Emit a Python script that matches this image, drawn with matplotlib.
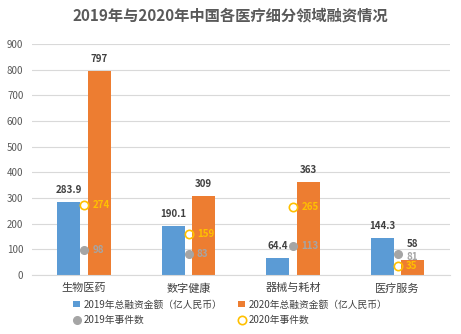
import matplotlib.pyplot as plt
import numpy as np

plt.rcParams['font.family'] = ['Noto Sans CJK SC', 'DejaVu Sans']

categories = ['生物医药', '数字健康', '器械与耗材', '医疗服务']
amount_2019 = [283.9, 190.1, 64.4, 144.3]
amount_2020 = [797, 309, 363, 58]
events_2019 = [98, 83, 113, 81]
events_2020 = [274, 159, 265, 35]

blue = '#5B9BD5'
orange = '#ED7D31'
grey = '#A5A5A5'
yellow = '#FFC000'
text_c = '#404040'

fig = plt.figure(figsize=(4.61, 3.34), dpi=100)
ax = fig.add_axes([0.069, 0.177, 0.907, 0.691])

x = np.arange(len(categories))
w = 0.22
off = 0.145

b1 = ax.bar(x - off, amount_2019, w, color=blue, label='2019年总融资金额（亿人民币）', zorder=2)
b2 = ax.bar(x + off, amount_2020, w, color=orange, label='2020年总融资金额（亿人民币）', zorder=2)
l1, = ax.plot(x, events_2019, 'o', color=grey, ms=5.5, ls='none', label='2019年事件数', zorder=3)
l2, = ax.plot(x, events_2020, 'o', mfc='none', mec=yellow, mew=1.2, ms=6, ls='none', label='2020年事件数', zorder=3)

for xi, v in zip(x, amount_2019):
    ax.annotate(f'{v:.1f}', (xi - off, v), xytext=(0, 5), textcoords='offset points',
                ha='center', va='bottom', fontsize=7, fontweight='bold', color=text_c)
for i, (xi, v) in enumerate(zip(x, amount_2020)):
    # last one sits right above the event labels, nudge it up a little
    dy = 8 if i == 3 else 5
    ax.annotate(f'{v}', (xi + off, v), xytext=(0, dy), textcoords='offset points',
                ha='center', va='bottom', fontsize=7, fontweight='bold', color=text_c)
for i, (xi, v) in enumerate(zip(x, events_2019)):
    dy = -2 if i == 3 else 0
    ax.annotate(f'{v}', (xi, v), xytext=(6, dy), textcoords='offset points',
                ha='left', va='center', fontsize=7, fontweight='bold', color=grey)
for xi, v in zip(x, events_2020):
    ax.annotate(f'{v}', (xi, v), xytext=(6, 0), textcoords='offset points',
                ha='left', va='center', fontsize=7, fontweight='bold', color=yellow)

ax.set_xlim(-0.5, 3.5)
ax.set_ylim(0, 900)
ax.set_yticks(range(0, 901, 100))
ax.set_xticks(x)
ax.set_xticklabels(categories, fontsize=8, color=text_c)
ax.tick_params(axis='y', labelsize=7, colors='#595959', length=0, pad=6)
ax.tick_params(axis='x', length=0, pad=6)
ax.grid(axis='y', color='#D9D9D9', lw=0.8, zorder=0)
for s in ['top', 'right', 'left']:
    ax.spines[s].set_visible(False)
ax.spines['bottom'].set_color('#D9D9D9')

fig.text(0.5, 0.955, '2019年与2020年中国各医疗细分领域融资情况', ha='center', va='center',
         fontsize=11, fontweight='bold', color='#595959')

# ncol fills column-first, so order handles to get amounts on the first row
fig.legend(handles=[b1, l1, b2, l2], loc='lower left', bbox_to_anchor=(0.14, 0.0),
           ncol=2, frameon=False, fontsize=7, handlelength=0.7, handleheight=0.7,
           handletextpad=0.4, columnspacing=1.6, labelspacing=0.6, labelcolor=text_c)

fig.savefig('out.png', dpi=100)
